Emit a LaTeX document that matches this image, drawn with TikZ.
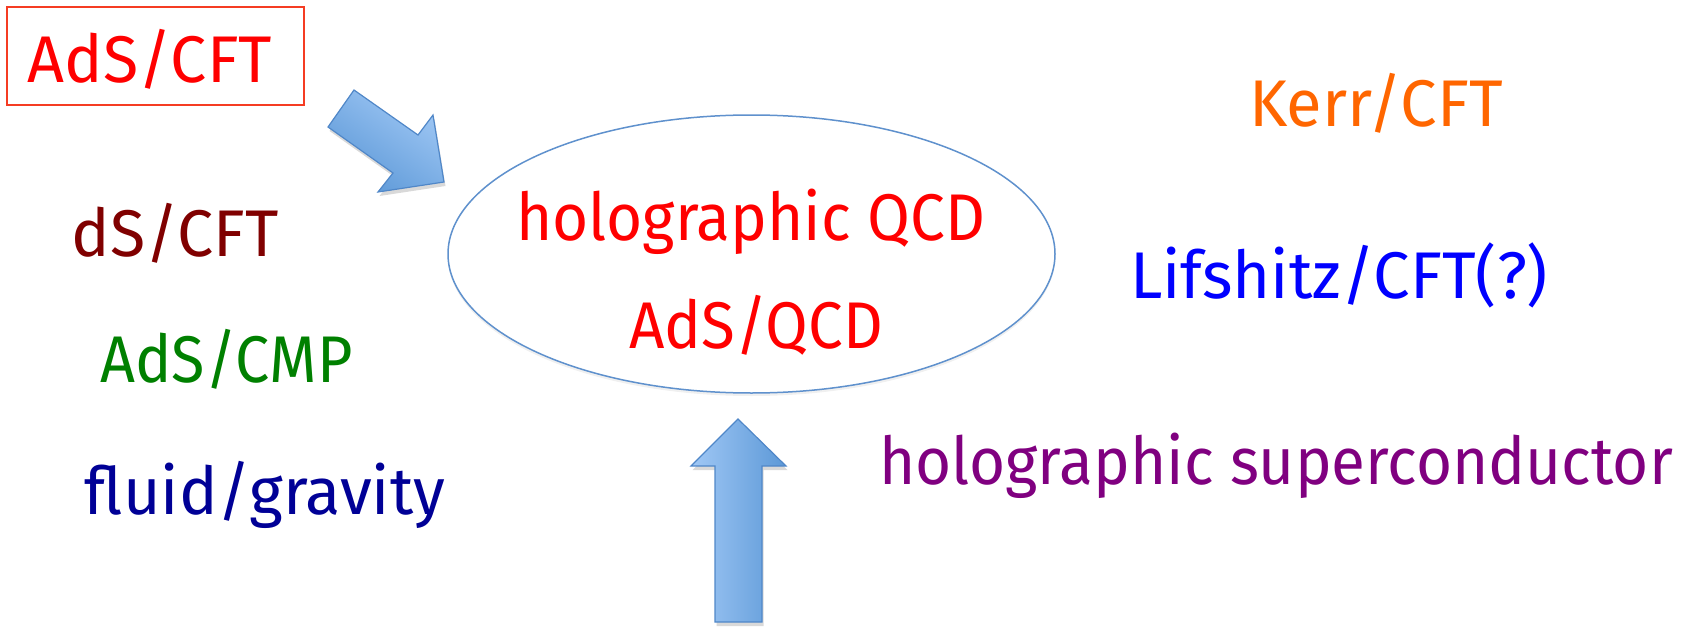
\documentclass[tikz,border=0pt]{standalone}
\usepackage{fontspec}
\setmainfont{Fira Sans}
\usepackage{graphicx}
\usetikzlibrary{shapes.geometric,shadows}
\definecolor{tred}{RGB}{255,0,0}
\definecolor{boxred}{RGB}{245,60,35}
\definecolor{torange}{RGB}{255,102,0}
\definecolor{tdark}{RGB}{128,0,0}
\definecolor{tblue}{RGB}{0,0,255}
\definecolor{tgreen}{RGB}{0,128,0}
\definecolor{tpurple}{RGB}{128,0,128}
\definecolor{tnavy}{RGB}{0,0,150}
\definecolor{ellline}{RGB}{95,145,205}
\definecolor{arrlight}{RGB}{160,200,245}
\definecolor{arrdark}{RGB}{92,152,215}
\definecolor{arredge}{RGB}{80,135,200}
\newcommand\fitto[2]{\resizebox{#1pt}{\height}{#2}}
\tikzset{
  lbl/.style={inner sep=0pt, anchor=base, font=\fontsize{66}{70}\selectfont},
  blockarrow/.style={draw=arredge, line width=1.2pt, line join=miter,
    drop shadow={shadow xshift=1.5pt, shadow yshift=-4pt, opacity=0.25, fill=black!60}},
}
\begin{document}
\begin{tikzpicture}[x=1pt,y=-1pt]
\useasboundingbox (0,0) rectangle (1690,634);
% box around AdS/CFT
\node[draw=boxred, line width=1.6pt, inner sep=0pt, minimum width=297pt, minimum height=98pt] (adsbox) at (155.4,56.2) {};
\node[lbl, text=tred] (adscft) at (150,82) {\fitto{244}{AdS/CFT}};
% ellipse
\node[ellipse, draw=ellline, line width=1.5pt, inner sep=0pt, minimum width=607pt, minimum height=278pt,
  drop shadow={shadow xshift=0pt, shadow yshift=-3pt, opacity=0.12, fill=black!50}, fill=white] (qcd) at (751.5,254) {};
\node[lbl, text=tred] (holoqcd) at (750.5,240) {\fitto{469}{holographic QCD}};
\node[lbl, text=tred] (adsqcd) at (756,348) {\fitto{254}{AdS/QCD}};
% other labels
\node[lbl, text=torange] (kerr) at (1376,126) {\fitto{254}{Kerr/CFT}};
\node[lbl, text=tdark] (dscft) at (175,256) {\fitto{207}{dS/CFT}};
\node[lbl, text=tblue] (lif) at (1339,298) {\fitto{418}{Lifshitz/CFT(?)}};
\node[lbl, text=tgreen] (adscmp) at (226.5,382) {\fitto{252}{AdS/CMP}};
\node[lbl, text=tpurple] (hsc) at (1276,484) {\fitto{794}{holographic superconductor}};
\node[lbl, text=tnavy] (fluid) at (265,514) {\fitto{360}{fluid/gravity}};
% diagonal block arrow
\coordinate (d1) at (328,127);
\coordinate (d2) at (354,90);
\coordinate (d3) at (418,135);
\coordinate (d4) at (433,115);
\coordinate (d5) at (444,182);
\coordinate (d6) at (378,192);
\coordinate (d7) at (393,173);
\path[blockarrow, top color=arrlight, bottom color=arrdark, shading angle=-35]
  (d1) -- (d2) -- (d3) -- (d4) -- (d5) -- (d6) -- (d7) -- cycle;
% up block arrow
\coordinate (u1) at (738,419);
\coordinate (u2) at (786,466);
\coordinate (u3) at (762,466);
\coordinate (u4) at (762,622);
\coordinate (u5) at (715,622);
\coordinate (u6) at (715,466);
\coordinate (u7) at (691,466);
\path[blockarrow, left color=arrlight, right color=arrdark]
  (u1) -- (u2) -- (u3) -- (u4) -- (u5) -- (u6) -- (u7) -- cycle;
\end{tikzpicture}
\end{document}
